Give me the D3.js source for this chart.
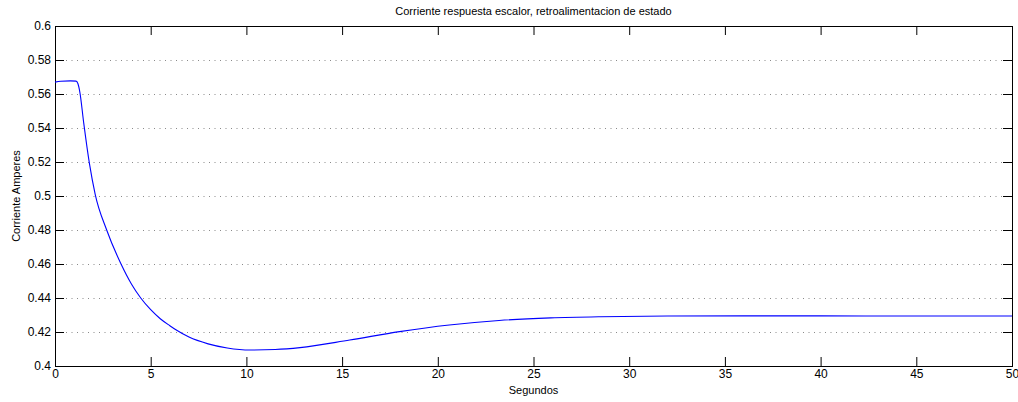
<!DOCTYPE html>
<html>
<head>
<meta charset="utf-8">
<script src="https://cdn.jsdelivr.net/npm/d3@7"></script>
<style>
  body { margin: 0; background: #fff; }
  svg text { font-family: "Liberation Sans", Arial, Helvetica, sans-serif; fill: #000; }
</style>
</head>
<body>
<svg id="chart" width="1018" height="402"></svg>
<script>
// Step response of the current under state feedback
const timeS = [0, 0.3, 0.8, 1.1, 1.2, 1.3, 1.5, 1.8, 2.1, 2.7, 3.45, 4.0, 4.48, 5.0, 5.5, 6.0, 6.36, 7, 8, 9, 10.2, 11.5, 12.8, 15.4, 18, 20.6, 23.2, 25.9, 28.5, 32, 36, 40, 45, 50];
const currentA = [0.5670, 0.5675, 0.5677, 0.5676, 0.5660, 0.5610, 0.5430, 0.5190, 0.5010, 0.4800, 0.4600, 0.4481, 0.4400, 0.4331, 0.4278, 0.4237, 0.4210, 0.4170, 0.4130, 0.4106, 0.4094, 0.4097, 0.4108, 0.4153, 0.4202, 0.4241, 0.4268, 0.4283, 0.4290, 0.4294, 0.4295, 0.4295, 0.4294, 0.4294];

const xTicks = [0, 5, 10, 15, 20, 25, 30, 35, 40, 45, 50];
const yTicks = [0.4, 0.42, 0.44, 0.46, 0.48, 0.5, 0.52, 0.54, 0.56, 0.58, 0.6];
const yTickLabels = ["0.4", "0.42", "0.44", "0.46", "0.48", "0.5", "0.52", "0.54", "0.56", "0.58", "0.6"];

const titleText = "Corriente respuesta escalor, retroalimentacion de estado";
const xLabel = "Segundos";
const yLabel = "Corriente Amperes";

const m = { left: 55, right: 1012, top: 26, bottom: 366 };
const svg = d3.select("#chart");

const x = d3.scaleLinear().domain([0, 50]).range([m.left, m.right]);
const y = d3.scaleLinear().domain([0.4, 0.6]).range([m.bottom, m.top]);

// horizontal dotted grid
svg.append("g").selectAll("line")
  .data(yTicks.filter(v => v > 0.4 + 1e-9 && v < 0.6 - 1e-9))
  .join("line")
  .attr("x1", m.left).attr("x2", m.right)
  .attr("y1", d => Math.round(y(d)) + 0.5).attr("y2", d => Math.round(y(d)) + 0.5)
  .attr("stroke", "#8a8a8a").attr("stroke-width", 1)
  .attr("stroke-dasharray", "1,4.5");

const tickLen = 9;
const fmtY = d => yTickLabels[yTicks.indexOf(d)];

// axes (ticks pointing inward)
const axB = svg.append("g").attr("transform", `translate(0,${m.bottom})`)
  .call(d3.axisBottom(x).tickValues(xTicks).tickSize(-tickLen).tickPadding(3).tickFormat(d3.format("d")));
const axT = svg.append("g").attr("transform", `translate(0,${m.top})`)
  .call(d3.axisTop(x).tickValues(xTicks).tickSize(-tickLen).tickFormat(""));
const axL = svg.append("g").attr("transform", `translate(${m.left},0)`)
  .call(d3.axisLeft(y).tickValues(yTicks).tickSize(-tickLen).tickPadding(4).tickFormat(fmtY));
const axR = svg.append("g").attr("transform", `translate(${m.right},0)`)
  .call(d3.axisRight(y).tickValues(yTicks).tickSize(-tickLen).tickFormat(""));

[axB, axT, axL, axR].forEach(a => {
  a.select(".domain").remove();
  a.selectAll(".tick line").attr("stroke", "#000");
  a.selectAll("text").style("font-size", "12px").style("font-family", "'Liberation Sans', Arial, sans-serif");
});

// plot frame
svg.append("rect")
  .attr("x", m.left + 0.5).attr("y", m.top + 0.5)
  .attr("width", m.right - m.left).attr("height", m.bottom - m.top)
  .attr("fill", "none").attr("stroke", "#000").attr("stroke-width", 1);

// response curve
const line = d3.line()
  .x((d, i) => x(timeS[i]))
  .y(d => y(d))
  .curve(d3.curveMonotoneX);

svg.append("path")
  .datum(currentA)
  .attr("d", line)
  .attr("fill", "none")
  .attr("stroke", "#0000ff")
  .attr("stroke-width", 1.1);

// labels
svg.append("text").attr("x", (m.left + m.right) / 2).attr("y", 15)
  .attr("text-anchor", "middle").style("font-size", "11px").text(titleText);
svg.append("text").attr("x", (m.left + m.right) / 2).attr("y", 394)
  .attr("text-anchor", "middle").style("font-size", "11px").text(xLabel);
svg.append("text").attr("transform", `translate(20,${(m.top + m.bottom) / 2}) rotate(-90)`)
  .attr("text-anchor", "middle").style("font-size", "11px").text(yLabel);
</script>
</body>
</html>
